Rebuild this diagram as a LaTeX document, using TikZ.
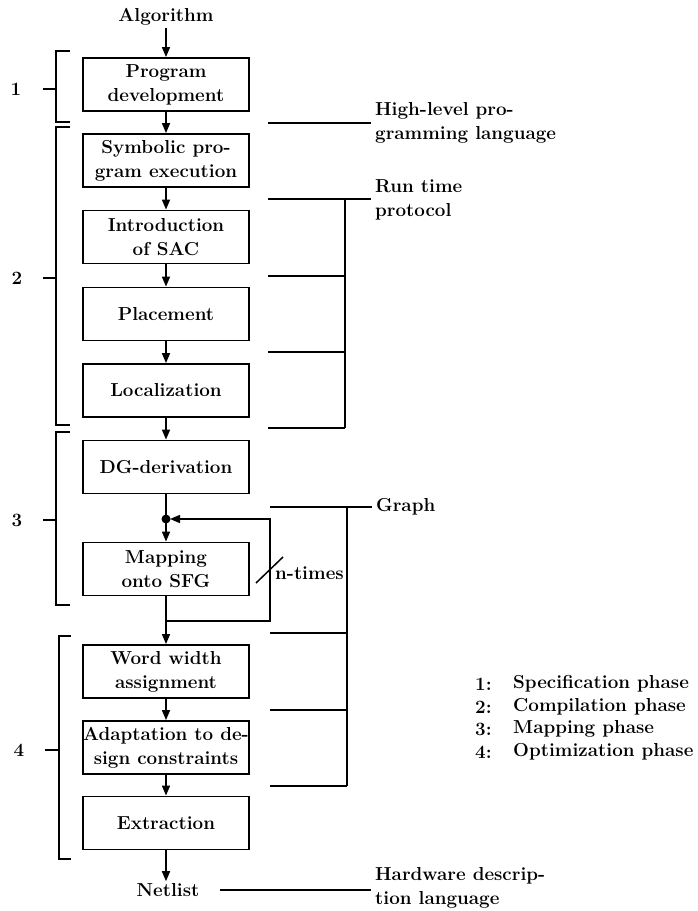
\documentclass[tikz,border=0pt]{standalone}
\usetikzlibrary{arrows.meta,calc}
\begin{document}
\begin{tikzpicture}[x=1pt,y=-1pt,
  font=\fontsize{18.8}{24}\selectfont\bfseries,
  stepbox/.style={draw, line width=1.8pt, minimum width=166pt, minimum height=53pt, align=center, inner xsep=0pt, inner ysep=2pt},
  arr/.style={-{Triangle[length=10pt,width=8pt]}, line width=1.6pt},
  ln/.style={line width=1.5pt},
  lab/.style={align=left, anchor=west, inner sep=0pt},
  txt/.style={inner sep=2pt}]
\useasboundingbox (0,0) rectangle (697,911);

% main boxes
\node[stepbox] (b1) at (166,84.5) {Program\\development};
\node[stepbox] (b2) at (166,160.5) {Symbolic pro-\\gram execution};
\node[stepbox] (b3) at (166,237) {Introduction\\of SAC};
\node[stepbox] (b4) at (166,314) {Placement};
\node[stepbox] (b5) at (166,390.5) {Localization};
\node[stepbox] (b6) at (166,467) {DG-derivation};
\node[stepbox] (b7) at (166,569) {Mapping\\onto SFG};
\node[stepbox] (b8) at (166,671.5) {Word width\\assignment};
\node[stepbox] (b9) at (166,747.5) {Adaptation to de-\\sign constraints};
\node[stepbox] (b10) at (166,823) {Extraction};

\node[txt] (alg) at (166,17) {Algorithm};
\node[txt] (net) at (168,890) {Netlist};

% flow arrows
\draw[arr] (alg.south) -- (b1.north);
\draw[arr] (b1.south) -- (b2.north);
\draw[arr] (b2.south) -- (b3.north);
\draw[arr] (b3.south) -- (b4.north);
\draw[arr] (b4.south) -- (b5.north);
\draw[arr] (b5.south) -- (b6.north);
\coordinate (dot) at (166,519);
\draw[ln] (b6.south) -- (dot);
\fill (dot) circle (4.5pt);
\draw[arr] (dot) -- (b7.north);
\coordinate (j) at (166,621);
\coordinate (lr) at (270,621);
\draw[ln] (b7.south) -- (j);
\draw[arr] (j) -- (b8.north);
\draw[arr, shorten >=4pt] (j) -- (lr) |- (dot);
\draw[arr] (b8.south) -- (b9.north);
\draw[arr] (b9.south) -- (b10.north);
\draw[arr] (b10.south) -- (b10.south |- net.north);

% n-times
\draw[ln] (256,583) -- (283,557);
\node[lab] (nt) at (275,573) {n-times};

% right side: languages
\node[lab] (hl) at (375,122.5) {High-level pro-\\gramming language};
\draw[ln] (268,123) -- (371,123);

\node[lab] (rt) at (375,200) {Run time\\protocol};
\draw[ln] (268,199) -- (371,199);
\draw[ln] (345,199) -- (345,428);
\draw[ln] (268,276) -- (345,276);
\draw[ln] (268,352) -- (345,352);
\draw[ln] (268,428) -- (345,428);

\node[lab] (gr) at (376,507) {Graph};
\draw[ln] (270,507) -- (372,507);
\draw[ln] (347,507) -- (347,786);
\draw[ln] (270,633) -- (347,633);
\draw[ln] (270,710) -- (347,710);
\draw[ln] (270,786) -- (347,786);

\node[lab] (hw) at (375,888) {Hardware descrip-\\tion language};
\draw[ln] (220,890) -- (371,890);

% left brackets
\draw[ln] (70,51) -- (56,51) -- (56,122) -- (70,122);
\draw[ln] (43,89) -- (56,89);
\node[txt] (p1) at (16,89) {1};
\draw[ln] (70,127) -- (56,127) -- (56,425) -- (70,425);
\draw[ln] (43,278) -- (56,278);
\node[txt] (p2) at (17,278) {2};
\draw[ln] (70,432) -- (56,432) -- (56,605) -- (70,605);
\draw[ln] (43,520) -- (56,520);
\node[txt] (p3) at (17,520) {3};
\draw[ln] (71,636) -- (59,636) -- (59,859) -- (71,859);
\draw[ln] (45,750) -- (59,750);
\node[txt] (p4) at (19,750) {4};

% legend
\node[lab] (l1n) at (475,684) {1:};
\node[lab] (l1t) at (513,684) {Specification phase};
\node[lab] (l2n) at (475,707) {2:};
\node[lab] (l2t) at (513,707) {Compilation phase};
\node[lab] (l3n) at (475,729) {3:};
\node[lab] (l3t) at (513,729) {Mapping phase};
\node[lab] (l4n) at (475,752) {4:};
\node[lab] (l4t) at (513,752) {Optimization phase};
\end{tikzpicture}
\end{document}
